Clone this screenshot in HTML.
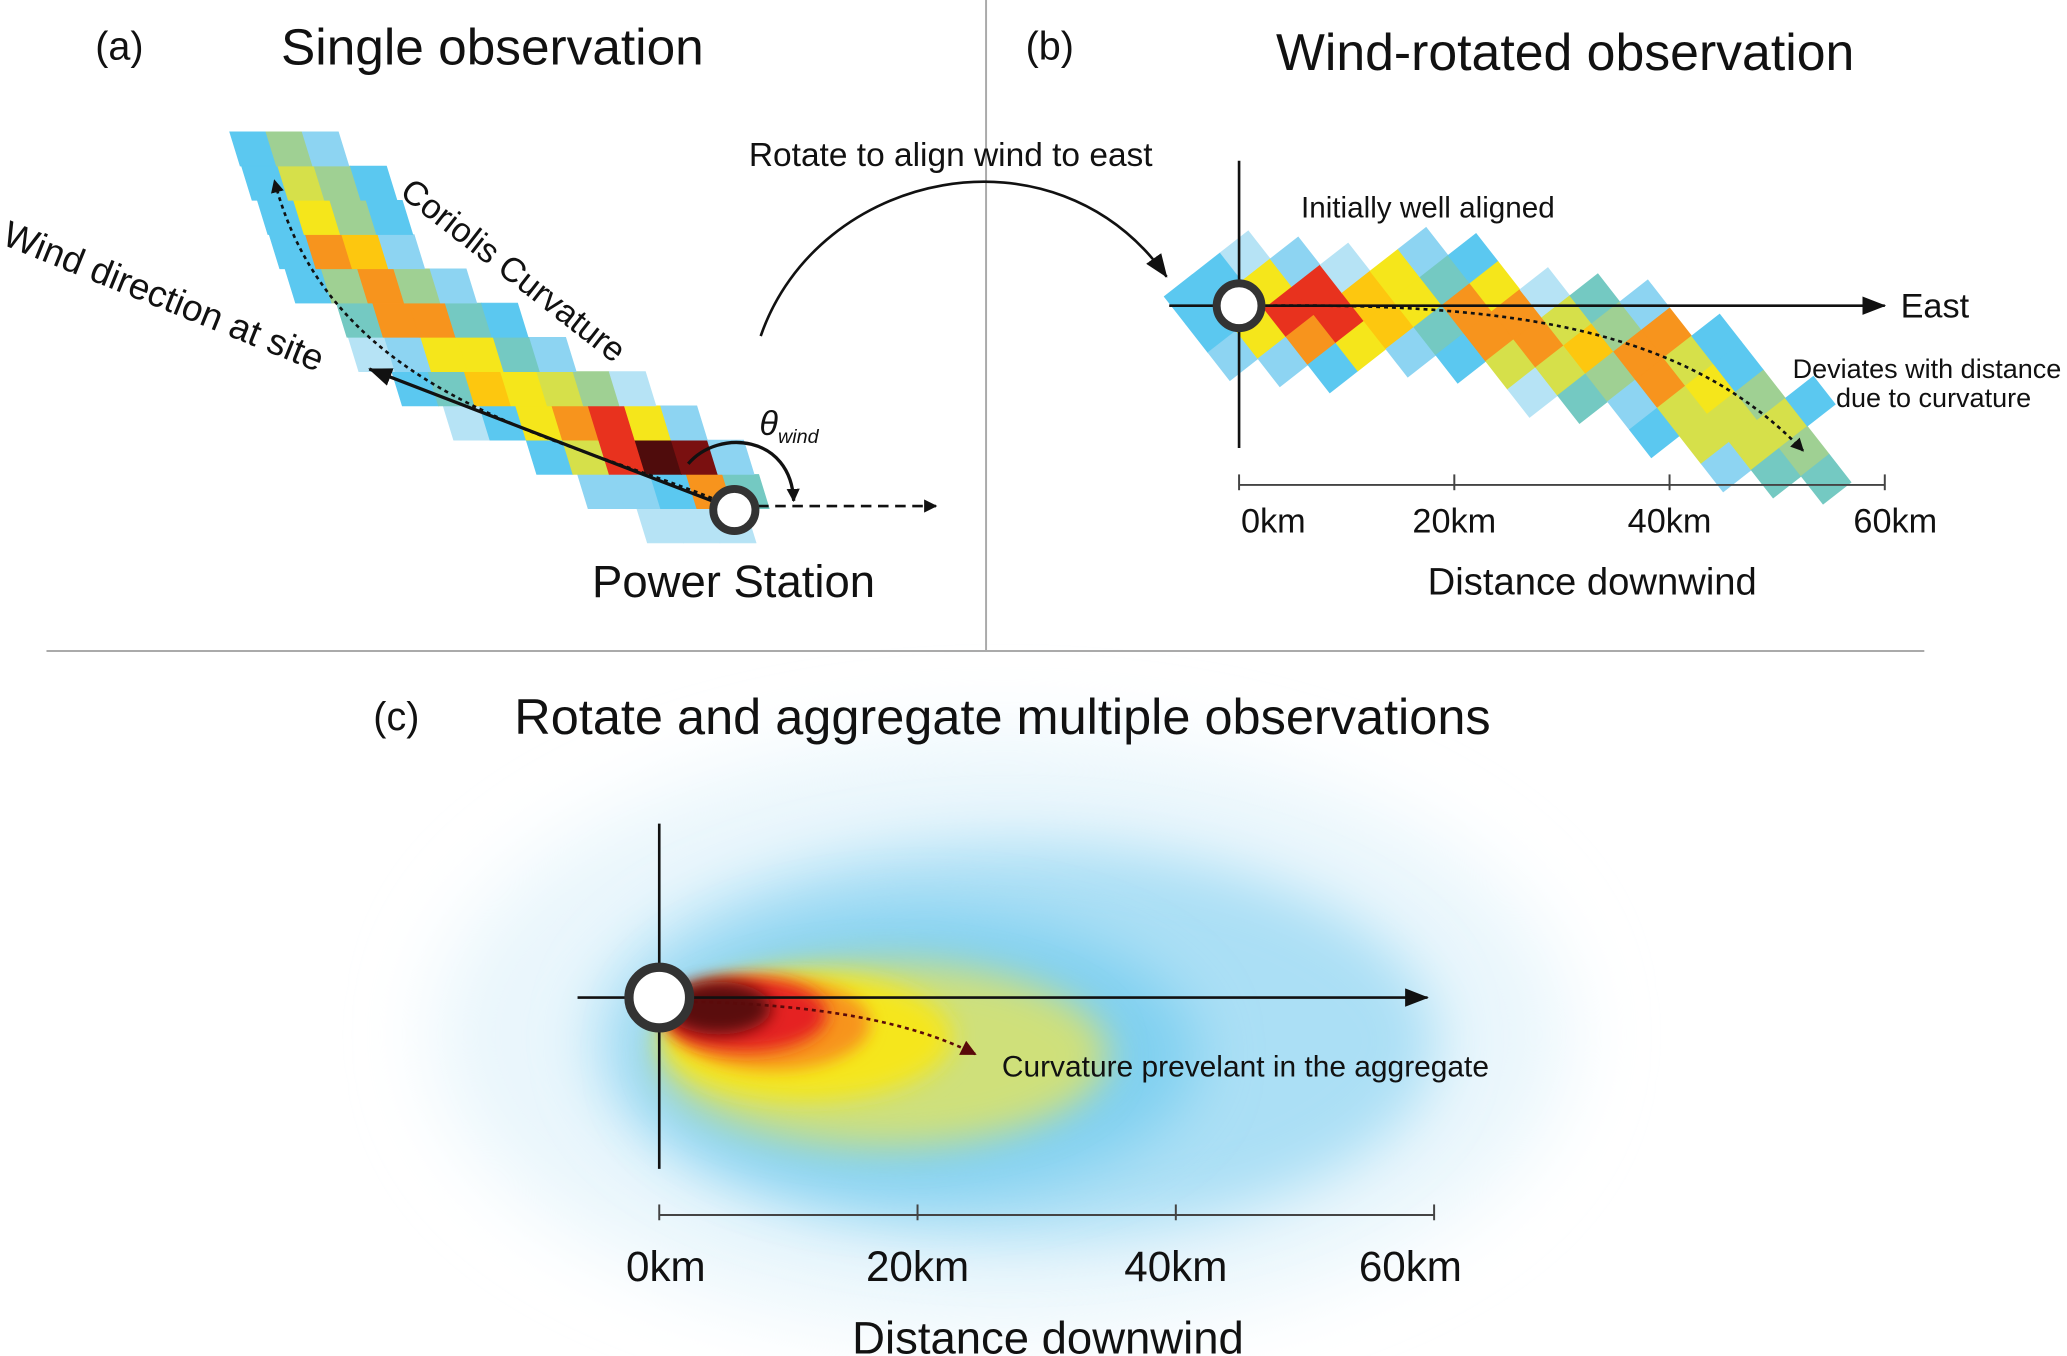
<!DOCTYPE html>
<html><head><meta charset="utf-8">
<style>
html,body{margin:0;padding:0;background:#fff;}
svg{display:block;}
text{font-family:"Liberation Sans",Arial,sans-serif;fill:#111;}
</style></head>
<body>
<svg id="fig" width="2067" height="1356" viewBox="0 0 1568 1029" xmlns="http://www.w3.org/2000/svg">
<defs>
<filter id="bl30" x="-60%" y="-60%" width="220%" height="220%"><feGaussianBlur stdDeviation="30"/></filter>
<filter id="bl22" x="-60%" y="-60%" width="220%" height="220%"><feGaussianBlur stdDeviation="22"/></filter>
<filter id="bl14" x="-60%" y="-60%" width="220%" height="220%"><feGaussianBlur stdDeviation="14"/></filter>
<filter id="bl9" x="-60%" y="-60%" width="220%" height="220%"><feGaussianBlur stdDeviation="9"/></filter>
<filter id="bl6" x="-60%" y="-60%" width="220%" height="220%"><feGaussianBlur stdDeviation="6"/></filter>
<marker id="ah" markerWidth="10" markerHeight="10" refX="9" refY="5" orient="auto" markerUnits="userSpaceOnUse"><path d="M0,0 L10,5 L0,10 z" fill="#111"/></marker>
<marker id="ahBig" markerWidth="18" markerHeight="14" refX="17" refY="7" orient="auto" markerUnits="userSpaceOnUse"><path d="M0,0 L18,7 L0,14 z" fill="#111"/></marker>
<marker id="ahRed" markerWidth="12" markerHeight="12" refX="11" refY="6" orient="auto" markerUnits="userSpaceOnUse"><path d="M0,0 L12,6 L0,12 z" fill="#5a0a0a"/></marker>
</defs>

<line x1="748" y1="0" x2="748" y2="494" stroke="#aaa" stroke-width="1.5"/>
<line x1="35" y1="494" x2="1460" y2="494" stroke="#aaa" stroke-width="1.5"/>

<!-- panel a -->
<g id="panelA">
<text x="72" y="45" font-size="30">(a)</text>
<text x="213" y="49" font-size="39">Single observation</text>
<g id="cellsA"></g>
<path d="M540,378 C420,330 250,300 208,137" fill="none" stroke="#111" stroke-width="2" stroke-dasharray="3,3" marker-end="url(#ah)"/>
<line x1="545" y1="382" x2="280" y2="280" stroke="#111" stroke-width="2.5" marker-end="url(#ahBig)"/>
<line x1="575" y1="384" x2="710" y2="384" stroke="#111" stroke-width="2" stroke-dasharray="8,5" marker-end="url(#ah)"/>
<path d="M522,352 C545,325 600,330 602,380" fill="none" stroke="#111" stroke-width="2.5" marker-end="url(#ah)"/>
<text x="576" y="330" font-size="26" font-style="italic">θ<tspan font-size="15" dy="6">wind</tspan></text>
<text transform="translate(0,185) rotate(22)" font-size="28">Wind direction at site</text>
<text transform="translate(302,148) rotate(38)" font-size="26">Coriolis Curvature</text>
<circle cx="557" cy="387" r="16" fill="#fff" stroke="#333" stroke-width="6"/>
<text x="449" y="453" font-size="34.5">Power Station</text>
</g>

<text x="568" y="126" font-size="25.4">Rotate to align wind to east</text>
<path d="M577,255 C620,130 800,90 885,210" fill="none" stroke="#111" stroke-width="2" marker-end="url(#ahBig)"/>

<!-- panel b -->
<g id="panelB">
<text x="778" y="45" font-size="30">(b)</text>
<text x="968" y="53" font-size="39.3">Wind-rotated observation</text>
<g id="cellsB"></g>
<line x1="940" y1="122" x2="940" y2="340" stroke="#111" stroke-width="2"/>
<line x1="887" y1="232" x2="1430" y2="232" stroke="#111" stroke-width="2" marker-end="url(#ahBig)"/>
<text x="1442" y="241" font-size="26">East</text>
<path d="M960,232 C1150,230 1280,250 1368,342" fill="none" stroke="#111" stroke-width="2" stroke-dasharray="3,3" marker-end="url(#ah)"/>
<circle cx="940" cy="232" r="17" fill="#fff" stroke="#333" stroke-width="6"/>
<text x="987" y="165" font-size="22.5">Initially well aligned</text>
<text x="1462" y="287" font-size="20.5" text-anchor="middle">Deviates with distance</text>
<text x="1467" y="309" font-size="20.5" text-anchor="middle">due to curvature</text>
<g id="axisB"></g>
<text x="1208" y="451" font-size="29" text-anchor="middle">Distance downwind</text>
</g>

<!-- panel c -->
<g id="panelC">
<g id="heat"></g>
<text x="283" y="554" font-size="30">(c)</text>
<text x="390" y="557" font-size="38.3">Rotate and aggregate multiple observations</text>
<line x1="500" y1="625" x2="500" y2="887" stroke="#111" stroke-width="2"/>
<line x1="438" y1="757" x2="1083" y2="757" stroke="#111" stroke-width="2" marker-end="url(#ahBig)"/>
<path d="M520,760 C620,762 690,775 740,800" fill="none" stroke="#5a0a0a" stroke-width="2" stroke-dasharray="3,3" marker-end="url(#ahRed)"/>
<circle cx="500" cy="757" r="23" fill="#fff" stroke="#333" stroke-width="7"/>
<text x="760" y="817" font-size="22.7">Curvature prevelant in the aggregate</text>
<g id="axisC"></g>
<text x="795" y="1027" font-size="34.5" text-anchor="middle">Distance downwind</text>
</g>
</svg>

<script>
const NS = "http://www.w3.org/2000/svg";
const palette = {B:"#5bc8f0",L:"#b6e3f5",M:"#8dd4f2",T:"#74c9c2",G:"#9fd093",Y:"#f5e61b",E:"#d6e04a",F:"#fdc70f",O:"#f7941d",R:"#e8321e",D:"#7a1010",K:"#4f0c0c"};

// panel a: rows from bottom; left x (at row bottom) and colour strings
const rowLeftA = [491,446,407,344,305,272,263,224,212,203,191,182];
const rowColsA = ["LLL","MMBOT","BERKDM","LBYORYM","BTFYEGL","LMYYTM","TOOTB","BGOGM","BOFM","BYGB","BEGB","BGM"];

// panel b: colours along plume path (core / mid / edge)
const coreB = ["T","K","K","R","R","F","Y","O","O","F","O","Y","E","G"];
const midB  = ["B","D","D","Y","O","Y","T","Y","E","G","O","E","G","T"];
const edgeB = ["L","M","L","M","B","L","M","B","L","T","M","B","M","B"];

// axis ticks
const ticksB = ["0km","20km","40km","60km"];
const ticksC = ["0km","20km","40km","60km"];
const tickValsB = [0,20,40,60];
const tickValsC = [0,20,40,60];

// aggregate blobs
const blobCx = [760,770,700,670,612,585,565,545];
const blobCy = [785,790,800,800,787,777,770,765];
const blobRx = [430,320,210,170,110,75,62,40];
const blobRy = [225,150,105,70,48,35,28,20];
const blobCol = ["#e9f6fc","#abdff5","#80d0f0","#cfe07a","#f5e61b","#f7941d","#e52421","#5a0a0a"];
const blobBlur = ["bl30","bl22","bl22","bl14","bl9","bl6","bl6","bl6"];

(function(){
  const g = document.getElementById('cellsA');
  const w = 27.5, h = 26, sh = 8, y0 = 412;
  rowColsA.forEach((row,r)=>{
    const yb = y0 - r*h, yt = yb - h;
    for(let c=0;c<row.length;c++){
      const xb = rowLeftA[r] + c*w;
      const p = document.createElementNS(NS,'polygon');
      
      
      p.setAttribute('points',`${xb},${yb} ${xb+w},${yb} ${xb+w-sh},${yt} ${xb-sh},${yt}`);
      p.setAttribute('fill',palette[row[c]]);
      p.setAttribute('stroke',palette[row[c]]);
      p.setAttribute('stroke-width','0.5');
      g.appendChild(p);
    }
  });
})();

(function(){
  const g = document.getElementById('cellsB');
  const s = 27, ang = -38*Math.PI/180;
  const e1 = [Math.cos(ang), Math.sin(ang)];
  const e2 = [-Math.sin(ang), Math.cos(ang)];
  const ox = 940, oy = 232;
  const P = [[915,232],[960,232],[1100,236],[1250,275],[1375,348]];
  const pts = [];
  for(let i=0;i<P.length-1;i++){
    for(let k=0;k<20;k++){ const t=k/20; pts.push([P[i][0]+(P[i+1][0]-P[i][0])*t, P[i][1]+(P[i+1][1]-P[i][1])*t]); }
  }
  pts.push(P[P.length-1]);
  for(let u=-5;u<26;u++){
    for(let v=-10;v<20;v++){
      const cx = ox + u*s*e1[0] + v*s*e2[0];
      const cy = oy + u*s*e1[1] + v*s*e2[1];
      let best=1e9, bi=0;
      pts.forEach((p,i)=>{ const d=(p[0]-cx)**2+(p[1]-cy)**2; if(d<best){best=d;bi=i;} });
      const d = Math.sqrt(best);
      if(bi===0 || bi===pts.length-1){ if(d>s*0.7) continue; }
      const idx = Math.min(coreB.length-1, Math.floor(bi/pts.length*coreB.length));
      let c;
      if(d < s*0.5) c = coreB[idx];
      else if(d < s*1.1) c = midB[idx];
      else if(d < s*1.7) c = edgeB[idx];
      else continue;
      const r = document.createElementNS(NS,'rect');
      
      
      r.setAttribute('x',-s/2); r.setAttribute('y',-s/2);
      r.setAttribute('width',s); r.setAttribute('height',s);
      r.setAttribute('transform',`translate(${cx},${cy}) rotate(-38)`);
      r.setAttribute('fill',palette[c]);
      r.setAttribute('stroke',palette[c]);
      r.setAttribute('stroke-width','0.5');
      g.appendChild(r);
    }
  }
})();

function drawAxis(id, ticks, vals, x0, x1, y, labelY, size, firstOff, lastOff){
  const g = document.getElementById(id);
  const sx = v => x0 + (v/60)*(x1-x0);
  const l = document.createElementNS(NS,'line');
  
  
  l.setAttribute('x1',x0); l.setAttribute('x2',x1); l.setAttribute('y1',y); l.setAttribute('y2',y);
  l.setAttribute('stroke','#444'); l.setAttribute('stroke-width','1.5');
  g.appendChild(l);
  vals.forEach((v,i)=>{
    const t = document.createElementNS(NS,'line');
    
    
    t.setAttribute('x1',sx(v)); t.setAttribute('x2',sx(v)); t.setAttribute('y1',y-8); t.setAttribute('y2',y+4);
    t.setAttribute('stroke','#444'); t.setAttribute('stroke-width','1.5');
    g.appendChild(t);
    const tx = document.createElementNS(NS,'text');
    
    
    tx.setAttribute('x', sx(v) + (i===0?firstOff:(i===vals.length-1?lastOff:0)));
    tx.setAttribute('y', labelY);
    tx.setAttribute('font-size', size);
    tx.setAttribute('text-anchor','middle');
    tx.textContent = ticks[i];
    g.appendChild(tx);
  });
}
drawAxis('axisB', ticksB, tickValsB, 940, 1430, 368, 404, 26, 26, 8);
drawAxis('axisC', ticksC, tickValsC, 500, 1088, 922, 972, 32, 5, -18);

(function(){
  const g = document.getElementById('heat');
  blobCx.forEach((cx,i)=>{
    const e = document.createElementNS(NS,'ellipse');
    
    
    e.setAttribute('cx',cx); e.setAttribute('cy',blobCy[i]);
    e.setAttribute('rx',blobRx[i]); e.setAttribute('ry',blobRy[i]);
    e.setAttribute('fill',blobCol[i]);
    e.setAttribute('filter',`url(#${blobBlur[i]})`);
    g.appendChild(e);
  });
})();
</script>
</body></html>
